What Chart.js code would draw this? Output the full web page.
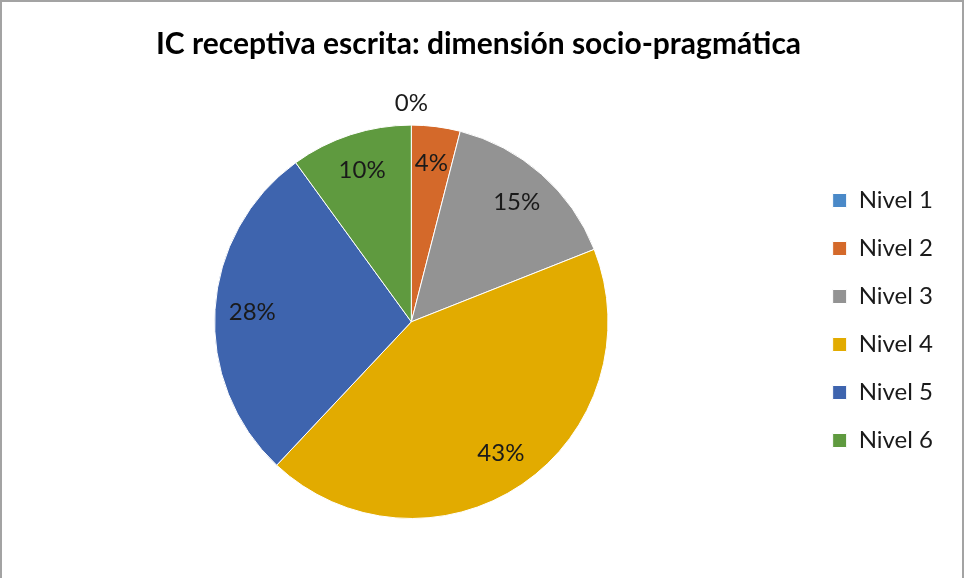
<!DOCTYPE html>
<html>
<head>
<meta charset="utf-8">
<script src="https://cdn.jsdelivr.net/npm/chart.js@4.4.1/dist/chart.umd.min.js"></script>
<style>
  html, body { margin: 0; padding: 0; background: #ffffff; }
  #wrap { position: relative; width: 964px; height: 578px; overflow: hidden; }
  #frame {
    position: absolute; left: 0; top: 0; width: 960px; height: 580px;
    border: 2px solid #a3a3a3; border-bottom: none; pointer-events: none;
  }
  canvas { position: absolute; left: 0; top: 0; }
</style>
</head>
<body>
<div id="wrap">
  <canvas id="chart" width="964" height="578"></canvas>
  <div id="frame"></div>
</div>
<script>
// Distribution of levels (percent of respondents)
const chartTitle = 'IC receptiva escrita: dimensión socio-pragmática';
const levels = ['Nivel 1', 'Nivel 2', 'Nivel 3', 'Nivel 4', 'Nivel 5', 'Nivel 6'];
const percentages = [0, 4, 15, 43, 28, 10];
const sliceColors = ['#4A89C8', '#D4692A', '#939393', '#E2AB00', '#3E64AE', '#5F9A3F'];

const FONT = 'Lato, Carlito, Calibri, "Liberation Sans", sans-serif';

// Percent labels placed inside each slice; empty slices get their label just outside the rim
const sliceLabels = {
  id: 'sliceLabels',
  afterDatasetsDraw(chart) {
    const { ctx } = chart;
    const meta = chart.getDatasetMeta(0);
    const values = chart.data.datasets[0].data;
    ctx.save();
    ctx.font = '24px ' + FONT;
    ctx.fillStyle = '#1a1a1a';
    ctx.textAlign = 'center';
    ctx.textBaseline = 'middle';
    meta.data.forEach((arc, i) => {
      const p = arc.getProps(['x', 'y', 'startAngle', 'endAngle', 'outerRadius'], true);
      const mid = (p.startAngle + p.endAngle) / 2;
      const r = values[i] === 0 ? p.outerRadius + 22 : p.outerRadius * 0.81;
      ctx.fillText(values[i] + '%', p.x + Math.cos(mid) * r, p.y + Math.sin(mid) * r);
    });
    ctx.restore();
  }
};

new Chart(document.getElementById('chart'), {
  type: 'pie',
  data: {
    labels: levels,
    datasets: [{
      data: percentages,
      backgroundColor: sliceColors,
      borderColor: '#ffffff',
      borderWidth: 1
    }]
  },
  options: {
    responsive: false,
    animation: false,
    layout: { padding: { left: 14, right: 21, top: 0, bottom: 59 } },
    plugins: {
      title: {
        display: true,
        text: chartTitle,
        color: '#000000',
        font: { family: FONT, size: 30, weight: 'bold' },
        padding: { top: 26, bottom: 62.6 }
      },
      legend: {
        position: 'right',
        // empty title block keeps the key list level with the middle of the pie
        title: { display: true, text: '', padding: { top: 107.6, bottom: 0 } },
        labels: {
          color: '#1a1a1a',
          font: { family: FONT, size: 24 },
          boxWidth: 14,
          boxHeight: 14,
          padding: 24
        }
      },
      tooltip: { enabled: false }
    }
  },
  plugins: [sliceLabels]
});
</script>
</body>
</html>
